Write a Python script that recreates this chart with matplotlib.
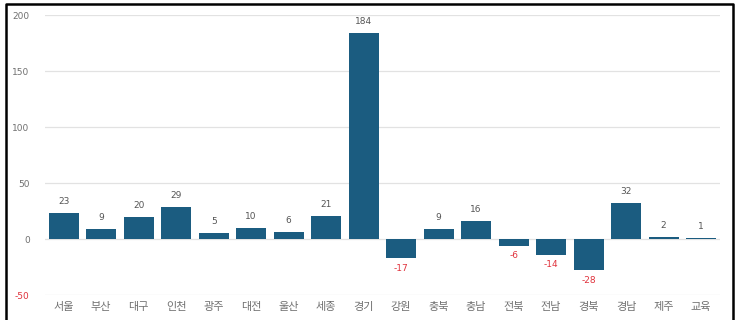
import matplotlib.pyplot as plt
from matplotlib.lines import Line2D

plt.rcParams['font.family'] = ['Noto Sans CJK KR', 'DejaVu Sans']
plt.rcParams['axes.unicode_minus'] = False

regions = ['서울', '부산', '대구', '인천', '광주', '대전', '울산', '세종', '경기',
           '강원', '충북', '충남', '전북', '전남', '경북', '경남', '제주', '교육']
values = [23, 9, 20, 29, 5, 10, 6, 21, 184, -17, 9, 16, -6, -14, -28, 32, 2, 1]
yticks = [-50, 0, 50, 100, 150, 200]

bar_color = '#1b5c80'
text_gray = '#707070'
neg_red = '#e0323c'

fig = plt.figure(figsize=(7.36, 3.2), dpi=100)
ax = fig.add_axes([0.0611, 0.078, 0.917, 0.875])

x = range(len(regions))
ax.bar(x, values, width=0.8, color=bar_color, zorder=3)

for i, v in enumerate(values):
    if v >= 0:
        ax.annotate(str(v), (i, v), xytext=(0, 5), textcoords='offset points',
                    ha='center', va='bottom', fontsize=6.5, color='#555555',
                    family='DejaVu Sans')
    else:
        ax.annotate(str(v), (i, v), xytext=(0, -4), textcoords='offset points',
                    ha='center', va='top', fontsize=6.5, color=neg_red,
                    family='DejaVu Sans')

ax.set_xlim(-0.5, len(regions) - 0.5)
ax.set_ylim(-50, 200)
ax.set_yticks(yticks)
ax.set_yticklabels([str(t) for t in yticks], family='DejaVu Sans',
                   fontsize=6.5, color=text_gray)
ax.set_xticks(list(x))
ax.set_xticklabels(regions, fontsize=8, color=text_gray)
ax.tick_params(axis='both', length=0)
ax.tick_params(axis='y', pad=11)
ax.tick_params(axis='x', pad=5)
ax.get_yticklabels()[0].set_color(neg_red)

ax.grid(axis='y', color='#e2e2e2', linewidth=0.9, zorder=0)
for s in ax.spines.values():
    s.set_visible(False)

# frame around the figure (bottom edge falls outside the canvas)
fig.add_artist(Line2D([0.0075, 0.0075, 0.996, 0.996], [-0.01, 0.986, 0.986, -0.01],
                      transform=fig.transFigure, color='black', linewidth=1.8))

fig.savefig('out.png', dpi=100, facecolor='white')
